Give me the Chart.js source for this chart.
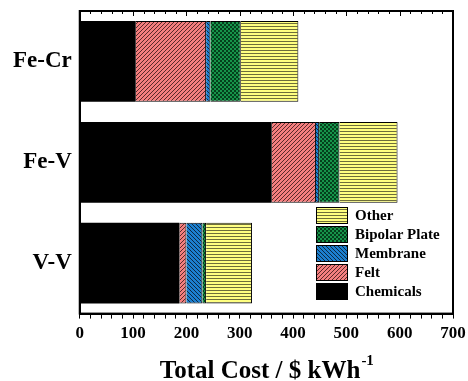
<!DOCTYPE html>
<html>
<head>
<meta charset="utf-8">
<script src="https://cdn.jsdelivr.net/npm/chart.js@4"></script>
<style>
  body { margin: 0; background: #fff; }
  #wrap { width: 468px; height: 381px; }
</style>
</head>
<body>
<div id="wrap"><canvas id="costChart" width="468" height="381"></canvas></div>
<script>
// data
var systems = ['Fe-Cr', 'Fe-V', 'V-V'];
var chemicals = [105, 360, 187];
var felt = [132, 83, 13];
var membrane = [8, 6, 30];
var bipolarPlate = [57, 38, 7];
var other = [108, 109, 86];
var xTickLabels = ['0', '100', '200', '300', '400', '500', '600', '700'];

var serif = '"Liberation Serif", "Times New Roman", serif';

// hatch patterns
function makePattern(size, bg, draw) {
    var c = document.createElement('canvas');
    c.width = size; c.height = size;
    var g = c.getContext('2d');
    g.fillStyle = bg;
    g.fillRect(0, 0, size, size);
    draw(g, size);
    return g.createPattern(c, 'repeat');
}
var ctx0 = document.getElementById('costChart').getContext('2d');

var feltPat = makePattern(4, '#f47f7f', function (g, s) {
    g.strokeStyle = '#5a2a2a'; g.lineWidth = 1;
    g.beginPath();
    g.moveTo(-1, s + 1); g.lineTo(s + 1, -1);
    g.moveTo(-1, 1); g.lineTo(1, -1);
    g.moveTo(s - 1, s + 1); g.lineTo(s + 1, s - 1);
    g.stroke();
});
var membranePat = makePattern(4, '#1c7fcf', function (g, s) {
    g.strokeStyle = '#0b2a44'; g.lineWidth = 1;
    g.beginPath();
    g.moveTo(-1, -1); g.lineTo(s + 1, s + 1);
    g.moveTo(s - 1, -1); g.lineTo(s + 1, 1);
    g.moveTo(-1, s - 1); g.lineTo(1, s + 1);
    g.stroke();
});
var bipolarPat = makePattern(4, '#17944a', function (g, s) {
    g.fillStyle = '#04401c';
    g.fillRect(0, 0, 2, 2);
    g.fillRect(2, 2, 2, 2);
});
var otherPat = makePattern(3, '#ffff80', function (g, s) {
    g.fillStyle = '#6e6e3a';
    g.fillRect(0, 2, s, 1);
});

// no extra edge padding from tick labels
function noEdgePad(scale) {
    scale.paddingTop = 0;
    scale.paddingBottom = 0;
    scale.paddingLeft = 0;
    scale.paddingRight = 0;
}

// frame, minor ticks, legend and axis title
var extras = {
    id: 'extras',
    afterDraw: function (chart) {
        var c = chart.ctx;
        var a = chart.chartArea;
        var xs = chart.scales.x;
        c.save();
        c.strokeStyle = '#000';
        c.lineWidth = 2;
        c.strokeRect(a.left, a.top, a.right - a.left, a.bottom - a.top);
        // ticks on the top edge
        c.lineWidth = 1;
        c.beginPath();
        for (var v = 0; v <= 700; v += 20) {
            var px = Math.round(xs.getPixelForValue(v)) + 0.5;
            var len = (v % 100 === 0) ? 5 : 3;
            c.moveTo(px, a.top); c.lineTo(px, a.top + len);
        }
        c.stroke();

        // legend
        var items = chart.data.datasets.slice().reverse();
        var lx = 316, ly = 207, rowH = 19, bw = 32, bh = 17;
        c.font = 'bold 15px ' + serif;
        c.textBaseline = 'middle';
        c.textAlign = 'left';
        items.forEach(function (ds, i) {
            var y = ly + i * rowH;
            c.fillStyle = ds.backgroundColor;
            c.fillRect(lx, y, bw, bh);
            c.lineWidth = 1;
            c.strokeStyle = '#000';
            c.strokeRect(lx + 0.5, y + 0.5, bw - 1, bh - 1);
            c.fillStyle = '#000';
            c.fillText(ds.label, lx + 39, y + bh / 2 + 1);
        });

        // x axis title with superscript
        var main = 'Total Cost / $ kWh';
        var sup = '-1';
        c.font = 'bold 25px ' + serif;
        var w1 = c.measureText(main).width;
        c.font = 'bold 15px ' + serif;
        var w2 = c.measureText(sup).width;
        var cx = (a.left + a.right) / 2;
        var sx = cx - (w1 + w2) / 2;
        c.textBaseline = 'alphabetic';
        c.fillStyle = '#000';
        c.font = 'bold 25px ' + serif;
        c.fillText(main, sx, 378);
        c.font = 'bold 15px ' + serif;
        c.fillText(sup, sx + w1 + 1, 365);
        c.restore();
    }
};

new Chart(ctx0, {
    type: 'bar',
    data: {
        labels: systems,
        datasets: [
            { label: 'Chemicals', data: chemicals, backgroundColor: '#000000', borderColor: '#000', borderWidth: 0 },
            { label: 'Felt', data: felt, backgroundColor: feltPat, borderColor: '#000', borderWidth: 1 },
            { label: 'Membrane', data: membrane, backgroundColor: membranePat, borderColor: '#000', borderWidth: 1 },
            { label: 'Bipolar Plate', data: bipolarPlate, backgroundColor: bipolarPat, borderColor: '#000', borderWidth: 1 },
            { label: 'Other', data: other, backgroundColor: otherPat, borderColor: '#000', borderWidth: 1 }
        ]
    },
    options: {
        indexAxis: 'y',
        responsive: false,
        animation: false,
        layout: { padding: { left: 5, right: 15, top: 11, bottom: 32 } },
        datasets: { bar: { barPercentage: 0.8, categoryPercentage: 1 } },
        plugins: {
            legend: { display: false },
            tooltip: { enabled: false }
        },
        scales: {
            x: {
                stacked: true,
                min: 0,
                max: 700,
                afterFit: noEdgePad,
                border: { display: true, color: '#000', width: 2 },
                grid: { drawOnChartArea: false, drawTicks: true, tickLength: 5, color: '#000' },
                ticks: {
                    stepSize: 20,
                    autoSkip: false,
                    maxRotation: 0,
                    padding: 5,
                    color: '#000',
                    font: { family: serif, size: 17, weight: 'bold' },
                    callback: function (v) {
                        return v % 100 === 0 ? xTickLabels[v / 100] : '';
                    }
                }
            },
            y: {
                stacked: true,
                afterFit: noEdgePad,
                border: { display: true, color: '#000', width: 2 },
                grid: { drawOnChartArea: false, drawTicks: false },
                ticks: {
                    padding: 8,
                    color: '#000',
                    font: { family: serif, size: 23, weight: 'bold' }
                }
            }
        }
    },
    plugins: [extras]
});
</script>
</body>
</html>
